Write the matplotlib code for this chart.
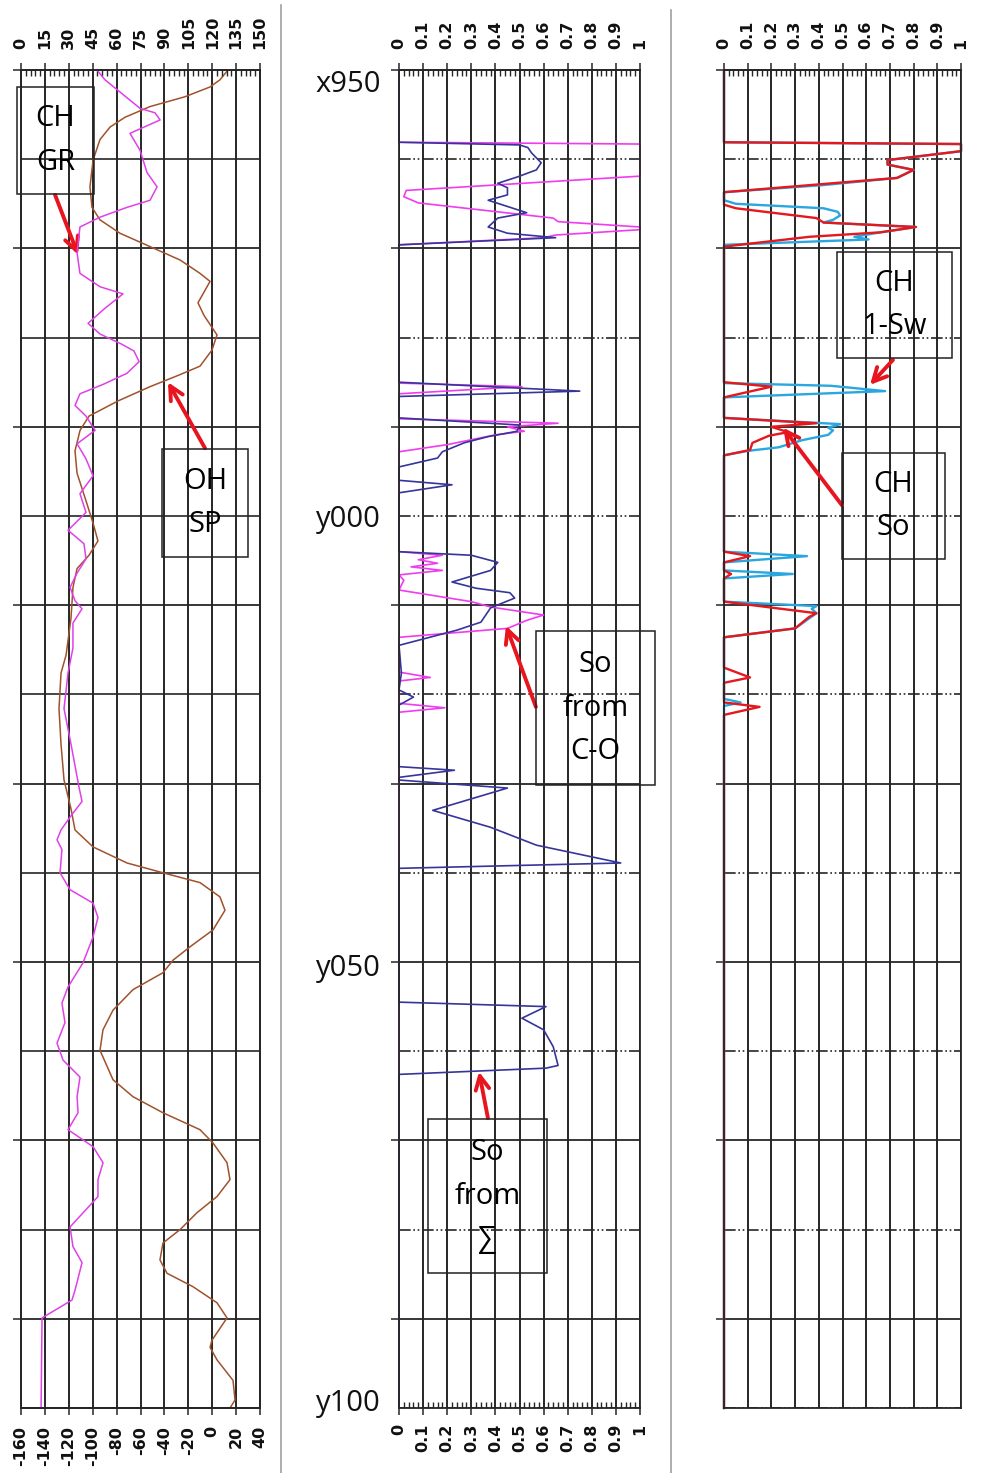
import matplotlib
matplotlib.use('Agg')
import matplotlib.pyplot as plt
import matplotlib.transforms as mtransforms
from matplotlib.lines import Line2D
from matplotlib.patches import Rectangle
import numpy as np

# -------------------------------------------------------------------------------------------------------------------- #
# DATA

# track 1: cased-hole GR (top scale) and open-hole SP (bottom scale)
gr_depth = [950.0, 951.1, 954.3, 954.8, 955.6, 957.1, 959.0, 961.5, 963.1, 964.6, 965.4, 966.5, 967.6, 970.5,
            972.8, 974.3, 975.1, 976.8, 978.4, 979.6, 980.7, 981.5, 982.7, 984.0, 985.2, 986.3, 987.6, 988.8,
            990.4, 991.9, 993.6, 995.5, 997.5, 999.6, 1001.6, 1003.1, 1004.8, 1006.4, 1008.0, 1009.5, 1010.4,
            1012.0, 1014.8, 1017.6, 1021.6, 1025.6, 1030.4, 1032.0, 1033.6, 1035.2, 1036.3, 1037.4, 1040.0,
            1041.9, 1043.4, 1045.0, 1047.2, 1050.1, 1052.8, 1054.6, 1056.8, 1059.1, 1061.0, 1062.9, 1065.1,
            1066.9, 1068.8, 1070.7, 1072.5, 1074.4, 1076.3, 1079.7, 1081.9, 1083.7, 1086.8, 1087.9, 1089.9, 1100.0]
gr_api = [47.7, 52.7, 74.7, 84.1, 87.3, 68.4, 74.7, 79.1, 85.4, 81.0, 66.5, 49.6, 37.0, 35.2,
          37.0, 49.6, 64.0, 52.1, 42.1, 49.6, 62.8, 70.9, 74.1, 66.5, 52.1, 37.0, 33.9, 40.8,
          46.5, 35.2, 40.8, 45.2, 37.0, 40.8, 29.5, 39.5, 40.8, 35.2, 30.8, 33.9, 38.3,
          32.6, 32.6, 29.5, 27.0, 31.4, 36.4, 38.3, 31.4, 25.1, 22.6, 25.7, 24.5,
          30.8, 45.2, 48.3, 45.2, 38.9, 29.5, 25.7, 27.6, 22.6, 26.4, 37.0, 35.2,
          35.8, 29.5, 45.2, 51.5, 48.3, 48.3, 30.8, 32.6, 38.3, 33.9, 32.0, 13.2, 12.6]

sp_depth = [950.0, 951.1, 951.9, 953.0, 954.1, 955.3, 956.4, 957.8, 960.1, 963.1, 965.4, 966.8, 968.3, 969.8,
            971.3, 972.8, 973.7, 976.1, 977.5, 979.7, 981.4, 983.2, 984.2, 985.5, 987.1, 988.8, 990.4, 992.7,
            995.2, 998.3, 1000.8, 1002.8, 1004.4, 1005.9, 1008.0, 1011.5, 1015.6, 1017.6, 1021.6, 1025.6,
            1029.6, 1032.8, 1035.2, 1037.1, 1038.9, 1040.0, 1041.1, 1042.7, 1044.2, 1046.4, 1048.3, 1049.8,
            1051.2, 1053.1, 1055.4, 1057.6, 1059.9, 1063.2, 1065.1, 1066.9, 1068.8, 1070.3, 1072.5, 1074.4,
            1076.3, 1078.1, 1080.0, 1081.5, 1083.4, 1084.9, 1086.4, 1088.2, 1089.9, 1092.4, 1093.2, 1094.6,
            1096.9, 1099.1, 1100.0]
sp_mv = [13.2, 6.5, -1.8, -22.8, -52.0, -73.0, -85.5, -93.9, -99.7, -102.3, -100.6, -93.9, -77.2, -52.0,
         -26.9, -10.2, -1.8, -11.9, -6.9, 4.0, -0.2, -10.2, -27.8, -52.0, -78.8, -103.1, -110.6, -114.8,
         -113.1, -105.6, -99.7, -95.6, -103.1, -113.1, -116.5, -118.2, -122.3, -126.5, -128.2, -126.5,
         -124.0, -118.2, -114.8, -99.7, -71.3, -41.2, -10.2, 6.5, 10.7, 0.7, -18.6, -32.8,
         -41.2, -66.3, -83.0, -91.4, -93.9, -83.0, -66.3, -41.2, -10.2, 0.7, 12.4, 14.9,
         4.0, -12.7, -26.9, -41.2, -43.7, -37.8, -16.1, 4.0, 12.4, -0.2, -1.8, 4.0,
         17.4, 19.1, 14.9]

# track 2: So from sigma and So from C-O
sig_depth = [950.0, 958.1, 958.4, 958.7, 959.3, 960.4, 961.2, 962.0, 962.7, 963.2, 964.0, 964.6, 966.0, 966.6,
             967.6, 968.3, 968.8, 969.6, 985.0, 986.0, 986.6, 989.0, 989.8, 990.5, 991.1, 991.8, 992.8, 993.5,
             994.5, 996.0, 996.5, 997.4, 1004.0, 1004.4, 1005.2, 1006.1, 1007.4, 1008.1, 1008.6, 1009.2,
             1010.3, 1011.9, 1012.8, 1014.5, 1017.6, 1019.5, 1020.3, 1021.2, 1028.1, 1028.5, 1029.3, 1029.6,
             1030.5, 1033.0, 1034.9, 1036.9, 1038.9, 1039.5, 1054.5, 1055.0, 1056.3, 1057.6, 1059.5, 1061.6,
             1061.9, 1062.6, 1100.0]
sig_so = [0, 0, 0.50, 0.535, 0.55, 0.59, 0.57, 0.49, 0.41, 0.45, 0.45, 0.37, 0.53, 0.41,
          0.37, 0.45, 0.65, 0, 0, 0.75, 0, 0, 0.50, 0.49, 0.37, 0.27, 0.18, 0.16,
          0, 0, 0.22, 0, 0, 0.30, 0.41, 0.38, 0.22, 0.32, 0.46, 0.48,
          0.38, 0.34, 0.24, 0, 0.01, 0, 0.06, 0, 0, 0.23, 0, 0,
          0.45, 0.14, 0.38, 0.57, 0.92, 0, 0, 0.61, 0.51, 0.60, 0.64, 0.66,
          0.61, 0, 0]

co_depth = [950.0, 958.1, 958.3, 961.9, 963.5, 964.2, 964.9, 966.6, 967.0, 967.6, 967.9, 968.5, 968.8, 969.6,
            985.1, 985.5, 986.3, 989.1, 989.6, 990.0, 990.5, 990.9, 992.0, 992.8, 1004.0, 1004.4, 1004.9,
            1005.3, 1005.7, 1006.1, 1006.6, 1007.2, 1008.3, 1009.6, 1010.2, 1011.1, 1011.7, 1012.6, 1013.6,
            1017.5, 1018.1, 1018.5, 1021.0, 1021.5, 1022.0, 1100.0]
co_so = [0, 0, 1.0, 1.0, 0.03, 0.02, 0.08, 0.64, 0.66, 1.0, 1.0, 0.65, 0.60, 0,
         0, 0.51, 0, 0, 0.66, 0.45, 0.52, 0.40, 0.20, 0, 0, 0.18, 0.08,
         0.16, 0.05, 0.18, 0.0, 0.02, 0, 0.30, 0.38, 0.60, 0.53, 0.45, 0,
         0, 0.13, 0, 0, 0.19, 0, 0]

# track 3: cased-hole So and 1-Sw
ch_so_depth = [950.0, 958.1, 958.3, 959.1, 960.1, 960.6, 961.2, 962.1, 963.7, 965.1, 965.5, 966.6, 967.1, 967.6,
               968.2, 968.7, 969.8, 985.0, 985.5, 986.7, 989.0, 989.6, 990.0, 990.6, 991.0, 991.8, 992.6, 993.2,
               1004.0, 1004.5, 1005.2, 1006.1, 1006.5, 1007.0, 1009.6, 1010.9, 1011.3, 1012.6, 1013.6, 1017.0,
               1018.1, 1018.7, 1020.9, 1021.4, 1022.3, 1100.0]
ch_so = [0, 0, 1.0, 1.0, 0.69, 0.69, 0.80, 0.73, 0, 0, 0.05, 0.39, 0.42, 0.81,
         0.66, 0.36, 0, 0, 0.20, 0, 0, 0.39, 0.20, 0.27, 0.19, 0.12, 0.11, 0,
         0, 0.11, 0, 0, 0.03, 0, 0, 0.39, 0.36, 0.30, 0, 0,
         0.11, 0, 0, 0.15, 0, 0]

sw_depth = [950.0, 958.1, 958.3, 959.1, 960.1, 960.6, 961.2, 962.1, 962.9, 963.7, 964.6, 965.0, 965.5, 965.9,
            966.3, 966.8, 967.1, 967.6, 968.2, 968.7, 969.0, 969.6, 985.1, 985.4, 986.0, 986.7, 989.0, 989.7,
            990.1, 990.4, 990.9, 991.5, 992.3, 992.7, 993.2, 1004.0, 1004.5, 1005.2, 1006.1, 1006.5, 1007.0,
            1009.6, 1010.1, 1010.4, 1010.9, 1012.6, 1013.6, 1020.5, 1020.9, 1021.3, 1100.0]
one_minus_sw = [0, 0, 1.0, 1.0, 0.69, 0.69, 0.80, 0.73, 0.42, 0, 0, 0.05, 0.42, 0.48,
                0.49, 0.46, 0.42, 0.81, 0.66, 0.55, 0.61, 0, 0, 0.45, 0.68, 0, 0, 0.49,
                0.44, 0.46, 0.44, 0.33, 0.23, 0.10, 0, 0, 0.35, 0, 0, 0.29, 0,
                0, 0.39, 0.37, 0.39, 0.30, 0, 0, 0.07, 0, 0]

# scales and labels
gr_ticks = list(range(0, 151, 15))
sp_ticks = list(range(-160, 41, 20))
frac_ticks = [i / 10 for i in range(11)]
frac_labels = ['0', '0.1', '0.2', '0.3', '0.4', '0.5', '0.6', '0.7', '0.8', '0.9', '1']
depth_labels = ['x950', 'y000', 'y050', 'y100']
depth_label_at = [952.5, 1001.2, 1051.6, 1100.3]

# -------------------------------------------------------------------------------------------------------------------- #
# LAYOUT / STYLE

W, H = 981, 1473
GRID = '#262626'
DASHDOT = (0, (7, 1.6, 1, 1.6, 1, 1.6))
TEXT_FONT = ['Open Sans', 'DejaVu Sans']
TICK_FONT = dict(fontsize=11.5, fontweight='bold', color='#111111')
ARROW = dict(arrowstyle='->,head_length=0.7,head_width=0.35', color='#e8141e', lw=2.8,
             mutation_scale=14, shrinkA=0, shrinkB=0)


def track_rect(x0, x1, y0=70, y1=1408):
    return [x0 / W, 1 - y1 / H, (x1 - x0) / W, (y1 - y0) / H]


def depth_frame(ax, minor_ls):
    ax.set_ylim(1100, 950)
    ax.set_yticks(np.arange(950, 1100, 20))
    ax.set_yticks(np.arange(960, 1101, 20), minor=True)
    ax.tick_params(axis='y', which='major', left=True, right=False, direction='out', length=6,
                   width=1.1, color=GRID, labelleft=False)
    ax.tick_params(axis='y', which='minor', left=False, length=0)
    ax.grid(True, axis='y', which='major', color=GRID, lw=1.3)
    ax.grid(True, axis='y', which='minor', color=GRID, lw=1.2, ls=minor_ls)
    ax.grid(True, axis='x', which='major', color=GRID, lw=1.4)
    ax.set_axisbelow(True)
    for s in ax.spines.values():
        s.set_color(GRID)
        s.set_linewidth(1.3)


def top_scale(ax, ticks, labels, lo, hi, step):
    # scale printed above a track, with small inward ticks along the top edge
    sec = ax.secondary_xaxis('top')
    sec.set_xticks(ticks, labels, **TICK_FONT)
    sec.set_xticks(np.arange(lo, hi + step / 2, step), minor=True)
    sec.tick_params(axis='x', which='major', direction='out', length=5, width=1.1, color=GRID,
                    pad=10, labelrotation=90)
    sec.tick_params(axis='x', which='minor', direction='in', length=4, width=1, color=GRID)
    sec.spines['top'].set_color(GRID)
    sec.spines['top'].set_linewidth(1.3)
    return sec


def note_box(ax, x0, x1, d0, d1, label):
    ax.add_patch(Rectangle((x0, d0), x1 - x0, d1 - d0, fill=False, ec='#222222', lw=1.1,
                           clip_on=False, zorder=5))
    ax.text((x0 + x1) / 2, (d0 + d1) / 2, label, ha='center', va='center', fontsize=21,
            family=TEXT_FONT, linespacing=1.65, zorder=6, clip_on=False)


fig = plt.figure(figsize=(W / 100, H / 100), dpi=100)

# ---- track 1 ----
ax_sp = fig.add_axes(track_rect(21, 260))
depth_frame(ax_sp, '-')
ax_sp.set_xlim(-160, 40)
ax_sp.set_xticks(sp_ticks, [str(t) for t in sp_ticks], **TICK_FONT)
ax_sp.tick_params(axis='x', which='major', direction='out', length=5, width=1.1, color=GRID,
                  pad=8, labelrotation=90, top=False)
ax_sp.plot(sp_mv, sp_depth, color='#a0522d', lw=1.1)

ax_gr = ax_sp.twiny()
ax_gr.set_xlim(0, 150)
ax_gr.set_xticks(gr_ticks, [str(t) for t in gr_ticks], **TICK_FONT)
ax_gr.set_xticks(np.arange(0, 151, 3), minor=True)
ax_gr.tick_params(axis='x', which='major', direction='out', length=5, width=1.1, color=GRID,
                  pad=10, labelrotation=90)
ax_gr.tick_params(axis='x', which='minor', direction='in', length=4, width=1, color=GRID)
for s in ax_gr.spines.values():
    s.set_color(GRID)
    s.set_linewidth(1.3)
ax_gr.plot(gr_api, gr_depth, color='#e040e8', lw=1.1)

note_box(ax_sp, -163.3, -98.9, 951.9, 963.9, 'CH\nGR')
ax_sp.annotate('', xy=(-112.3, 970.7), xytext=(-131.5, 964.0), arrowprops=ARROW, annotation_clip=False)
note_box(ax_sp, -42.0, 30.0, 992.5, 1004.6, 'OH\nSP')
ax_sp.annotate('', xy=(-37.0, 985.0), xytext=(-6.0, 992.4), arrowprops=ARROW, annotation_clip=False)

# ---- track 2 ----
ax_mid = fig.add_axes(track_rect(399, 640))
depth_frame(ax_mid, DASHDOT)
ax_mid.set_xlim(0, 1)
ax_mid.set_xticks(frac_ticks, frac_labels, **TICK_FONT)
ax_mid.set_xticks(np.arange(0, 1.001, 0.02), minor=True)
ax_mid.tick_params(axis='x', which='major', top=False, bottom=True, labeltop=False, labelbottom=True,
                   direction='out', length=5, width=1.1, color=GRID, pad=6.5, labelrotation=90)
ax_mid.tick_params(axis='x', which='minor', top=False, bottom=True, direction='in', length=4,
                   width=1, color=GRID)
top_scale(ax_mid, frac_ticks, frac_labels, 0, 1, 0.02)
ax_mid.plot(co_so, co_depth, color='#f03cf0', lw=1.2, clip_on=False)
ax_mid.plot(sig_so, sig_depth, color='#35359a', lw=1.2, clip_on=False)

note_box(ax_mid, 0.568, 1.062, 1012.9, 1030.2, 'So\nfrom\nC-O')
ax_mid.annotate('', xy=(0.444, 1012.3), xytext=(0.568, 1021.4), arrowprops=ARROW, annotation_clip=False)
note_box(ax_mid, 0.120, 0.614, 1067.6, 1084.9, 'So\nfrom\n\u2211')
ax_mid.annotate('', xy=(0.332, 1062.3), xytext=(0.369, 1067.5), arrowprops=ARROW, annotation_clip=False)

trans = mtransforms.blended_transform_factory(ax_mid.transAxes, ax_mid.transData)
for lab, d in zip(depth_labels, depth_label_at):
    ax_mid.text(-0.075, d, lab, transform=trans, ha='right', va='baseline', fontsize=21,
                family=TEXT_FONT, color='#111111')

# ---- track 3 ----
ax_r = fig.add_axes(track_rect(724, 961))
depth_frame(ax_r, DASHDOT)
ax_r.set_xlim(0, 1)
ax_r.set_xticks(frac_ticks)
ax_r.tick_params(axis='x', which='both', top=False, bottom=False, labeltop=False, labelbottom=False)
top_scale(ax_r, frac_ticks, frac_labels, 0, 1, 0.02)
ax_r.plot(one_minus_sw, sw_depth, color='#2aa7df', lw=1.7, clip_on=False)
ax_r.plot(ch_so, ch_so_depth, color='#e3191f', lw=1.7, clip_on=False)

note_box(ax_r, 0.477, 0.962, 970.4, 982.3, 'CH\n1-Sw')
ax_r.annotate('', xy=(0.616, 985.3), xytext=(0.713, 982.5), arrowprops=ARROW, annotation_clip=False)
note_box(ax_r, 0.498, 0.932, 992.9, 1004.8, 'CH\nSo')
ax_r.annotate('', xy=(0.249, 990.1), xytext=(0.498, 998.8), arrowprops=ARROW, annotation_clip=False)

# track separators
fig.add_artist(Line2D([281 / W, 281 / W], [0, 1 - 5 / H], color='#a0a0a0', lw=1.2))
fig.add_artist(Line2D([671 / W, 671 / W], [0, 1 - 10 / H], color='#a0a0a0', lw=1.2))

fig.savefig('out.png', dpi=100)
